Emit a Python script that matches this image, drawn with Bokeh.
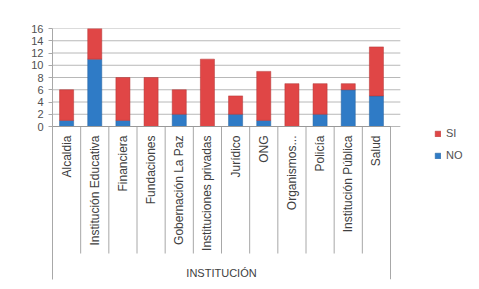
from bokeh.plotting import figure
from bokeh.models import FixedTicker, Legend, LegendItem, ColumnDataSource, Range1d
from bokeh.core.properties import value
from bokeh.embed import file_html
from bokeh.resources import INLINE
import math

categories = ["Alcaldia", "Institución Educativa", "Financiera", "Fundaciones",
              "Gobernación La Paz", "Instituciones privadas", "Jurídico", "ONG",
              "Organismos...", "Policía", "Institución Pública", "Salud"]
no_vals = [1, 11, 1, 0, 2, 0, 2, 1, 0, 2, 6, 5]
si_vals = [5, 5, 7, 8, 4, 11, 3, 8, 7, 5, 1, 8]
y_ticks = [0, 2, 4, 6, 8, 10, 12, 14, 16]
x_title = "INSTITUCIÓN"

n = len(categories)
ymax = 16
PX = ymax / 98.0           # data units per pixel vertically
FRAME_H = 251
ymin = ymax - FRAME_H * PX
CAT_PX = 338.0 / n         # px per category
FRAME_W = 419
xmax = FRAME_W / CAT_PX

xs = [i + 0.5 for i in range(n)]
src = ColumnDataSource(dict(x=xs, no=no_vals, si=si_vals,
                            tot=[a + b for a, b in zip(no_vals, si_vals)],
                            label=categories))

RED = "#E04646"
BLUE = "#2F7BC6"
GRID = "#b8b8b8"
SEP = "#a8a8a8"

p = figure(width=471, height=281, output_backend="svg", toolbar_location=None,
           x_range=Range1d(0, xmax), y_range=Range1d(ymin, ymax),
           x_axis_type=None, min_border_left=52, min_border_right=0,
           min_border_top=28, min_border_bottom=2)
p.background_fill_color = "white"
p.border_fill_color = "white"
p.outline_line_color = None
p.xgrid.grid_line_color = None
p.ygrid.grid_line_color = None

# horizontal grid lines over the category span
p.segment(x0=[0] * len(y_ticks), y0=y_ticks, x1=[n + 0.35] * len(y_ticks), y1=y_ticks,
          line_color=GRID, line_width=1)

r_no = p.vbar(x="x", bottom=0, top="no", width=0.5, source=src,
              fill_color=BLUE, line_color="#25609c", line_width=0.5)
r_si = p.vbar(x="x", bottom="no", top="tot", width=0.5, source=src,
              fill_color=RED, line_color="#b03535", line_width=0.5)

# separators of category label boxes
bounds = list(range(n + 1))
p.segment(x0=bounds, y0=[0] * len(bounds), x1=bounds, y1=[-127 * PX] * len(bounds),
          line_color=SEP, line_width=1)
p.segment(x0=[n], y0=[0], x1=[n], y1=[ymin], line_color=SEP, line_width=1)
p.segment(x0=[0], y0=[0], x1=[n], y1=[0], line_color="#999999", line_width=1)

# category labels (vertical)
p.text(x="x", y=-9 * PX, text="label", source=src, angle=math.pi / 2,
       text_align="right", text_baseline="middle",
       text_font=value("Liberation Sans"), text_font_size="12px",
       text_color="#404040")
# axis title
p.text(x=[n / 2], y=[-146 * PX], text=[x_title], text_align="center",
       text_baseline="middle", text_font=value("Liberation Sans"),
       text_font_size="11px", text_color="#404040")

# y axis
p.yaxis.ticker = FixedTicker(ticks=y_ticks)
p.yaxis.axis_line_color = SEP
p.yaxis.major_tick_line_color = SEP
p.yaxis.major_tick_out = 4
p.yaxis.major_tick_in = 0
p.yaxis.minor_tick_line_color = None
p.yaxis.major_label_text_font = "Liberation Sans"
p.yaxis.major_label_text_font_size = "11px"
p.yaxis.major_label_text_color = "#505050"

legend = Legend(items=[LegendItem(label="SI", renderers=[r_si]),
                       LegendItem(label="NO", renderers=[r_no])],
                location=(382, 118), orientation="vertical")
legend.background_fill_alpha = 0
legend.border_line_color = None
legend.label_text_font = "Liberation Sans"
legend.label_text_font_size = "11px"
legend.label_text_color = "#505050"
legend.glyph_width = 7
legend.glyph_height = 7
legend.spacing = 10
legend.padding = 2
legend.margin = 0
p.add_layout(legend, "center")

open("out.html", "w").write(file_html(p, INLINE))
